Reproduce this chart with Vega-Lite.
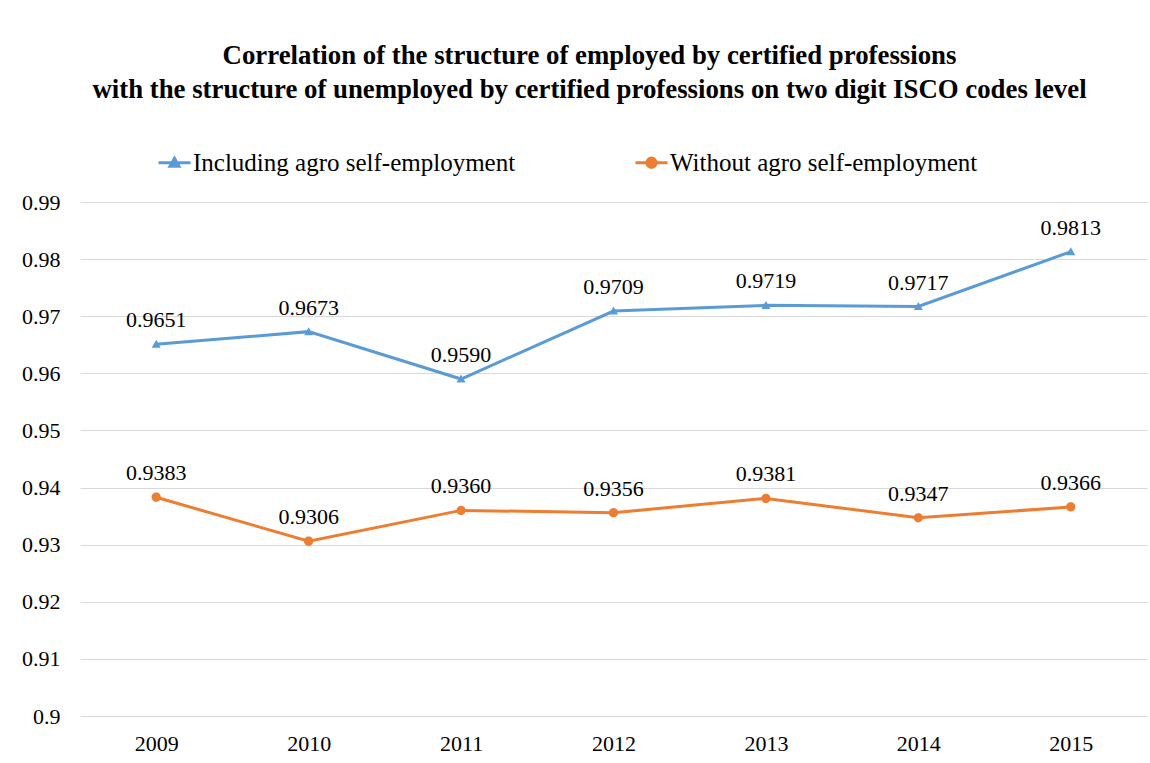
{
  "$schema": "https://vega.github.io/schema/vega-lite/v6.json",
  "width": 1067,
  "height": 514,
  "autosize": {"type": "none"},
  "padding": {"left": 80, "top": 202, "right": 3, "bottom": 47},
  "background": "#ffffff",
  "title": {
    "text": ["Correlation of the structure of employed by certified professions", "with the structure of unemployed by certified professions on two digit ISCO codes level"],
    "font": "Times New Roman, Liberation Serif, serif",
    "fontSize": 26.8,
    "fontWeight": "bold",
    "lineHeight": 34,
    "color": "#000000",
    "anchor": "middle",
    "offset": 41,
    "dx": -24
  },
  "data": {
    "values": [
      {"year": "2009", "series": "Including agro self-employment", "value": 0.9651},
      {"year": "2010", "series": "Including agro self-employment", "value": 0.9673},
      {"year": "2011", "series": "Including agro self-employment", "value": 0.9590},
      {"year": "2012", "series": "Including agro self-employment", "value": 0.9709},
      {"year": "2013", "series": "Including agro self-employment", "value": 0.9719},
      {"year": "2014", "series": "Including agro self-employment", "value": 0.9717},
      {"year": "2015", "series": "Including agro self-employment", "value": 0.9813},
      {"year": "2009", "series": "Without agro self-employment", "value": 0.9383},
      {"year": "2010", "series": "Without agro self-employment", "value": 0.9306},
      {"year": "2011", "series": "Without agro self-employment", "value": 0.9360},
      {"year": "2012", "series": "Without agro self-employment", "value": 0.9356},
      {"year": "2013", "series": "Without agro self-employment", "value": 0.9381},
      {"year": "2014", "series": "Without agro self-employment", "value": 0.9347},
      {"year": "2015", "series": "Without agro self-employment", "value": 0.9366}
    ]
  },
  "encoding": {
    "x": {
      "field": "year",
      "type": "ordinal",
      "scale": {"type": "point", "padding": 0.5},
      "axis": {"title": null, "labelAngle": 0, "domain": false, "ticks": false, "labelPadding": 17, "grid": false}
    },
    "y": {
      "field": "value",
      "type": "quantitative",
      "scale": {"domain": [0.9, 0.99], "nice": false, "zero": false},
      "axis": {
        "title": null,
        "values": [0.9, 0.91, 0.92, 0.93, 0.94, 0.95, 0.96, 0.97, 0.98, 0.99],
        "format": ".2~f",
        "domain": false,
        "ticks": false,
        "labelPadding": 20,
        "grid": true,
        "gridColor": "#D9D9D9",
        "gridWidth": 1
      }
    },
    "color": {
      "field": "series",
      "type": "nominal",
      "scale": {"domain": ["Including agro self-employment", "Without agro self-employment"], "range": ["#5B9BD5", "#ED7D31"]},
      "legend": {
        "title": null,
        "orient": "none",
        "legendX": 77,
        "legendY": -57,
        "direction": "horizontal",
        "columnPadding": 113,
        "labelFont": "Times New Roman, Liberation Serif, serif",
        "labelFontSize": 25,
        "labelColor": "#000000",
        "labelOffset": 1,
        "labelLimit": 600,
        "symbolSize": 1024,
        "encode": {"symbols": {"update": {"fill": {"scale": "color", "field": "value"}, "stroke": {"scale": "color", "field": "value"}, "strokeWidth": {"value": 3}, "opacity": {"value": 1}}}}
      }
    }
  },
  "layer": [
    {
      "mark": {"type": "line", "strokeWidth": 3}
    },
    {
      "mark": {"type": "point", "filled": true, "opacity": 1, "size": 1024, "strokeWidth": 0},
      "encoding": {
        "shape": {
          "field": "series",
          "type": "nominal",
          "scale": {
            "domain": ["Including agro self-employment", "Without agro self-employment"],
            "range": ["M-1,0H1M-0.28,0.22L0,-0.28L0.28,0.22Z", "M-1,0H1M-0.29,0A0.29,0.29 0 1,0 0.29,0A0.29,0.29 0 1,0 -0.29,0Z"]
          },
          "legend": {"title": null}
        }
      }
    },
    {
      "mark": {"type": "text", "font": "Times New Roman, Liberation Serif, serif", "fontSize": 22, "color": "#000000", "baseline": "alphabetic", "dy": -17},
      "encoding": {
        "color": {"value": "#000000"},
        "text": {"field": "value", "type": "quantitative", "format": ".4f"}
      }
    }
  ],
  "config": {
    "view": {"stroke": null},
    "axis": {"labelFont": "Times New Roman, Liberation Serif, serif", "labelFontSize": 22, "labelColor": "#000000"}
  }
}
